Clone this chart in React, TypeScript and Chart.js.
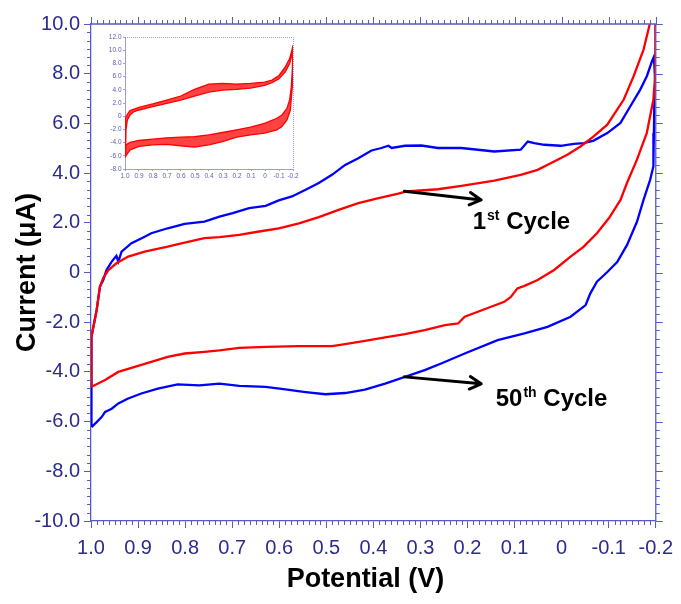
import React, { useEffect, useRef } from 'react';
import { Chart, registerables } from 'chart.js';

Chart.register(...registerables);

// ---------- Axis ticks ----------
const X_TICKS = [1.0, 0.9, 0.8, 0.7, 0.6, 0.5, 0.4, 0.3, 0.2, 0.1, 0, -0.1, -0.2];
const X_TICK_LABELS = ['1.0', '0.9', '0.8', '0.7', '0.6', '0.5', '0.4', '0.3', '0.2', '0.1', '0', '-0.1', '-0.2'];
const Y_TICKS = [10, 8, 6, 4, 2, 0, -2, -4, -6, -8, -10];
const Y_TICK_LABELS = ['10.0', '8.0', '6.0', '4.0', '2.0', '0', '-2.0', '-4.0', '-6.0', '-8.0', '-10.0'];

const INSET_X_TICKS = [1.0, 0.9, 0.8, 0.7, 0.6, 0.5, 0.4, 0.3, 0.2, 0.1, 0, -0.1, -0.2];
const INSET_X_TICK_LABELS = ['1.0', '0.9', '0.8', '0.7', '0.6', '0.5', '0.4', '0.3', '0.2', '0.1', '0', '-0.1', '-0.2'];
const INSET_Y_TICKS = [12, 10, 8, 6, 4, 2, 0, -2, -4, -6, -8];
const INSET_Y_TICK_LABELS = ['12.0', '10.0', '8.0', '6.0', '4.0', '2.0', '0', '-2.0', '-4.0', '-6.0', '-8.0'];

// ---------- 1st cycle (red) ----------
const CYCLE1_ANODIC_POTENTIAL = [0.999, 0.999, 0.988, 0.981, 0.974, 0.963, 0.946, 0.921, 0.886, 0.837, 0.801, 0.759, 0.727, 0.685, 0.643, 0.601, 0.558, 0.516, 0.474, 0.432, 0.389, 0.347, 0.330, 0.263, 0.213, 0.143, 0.087, 0.051, 0.016, -0.012, -0.040, -0.068, -0.097, -0.132, -0.153, -0.174, -0.187, -0.200];
const CYCLE1_ANODIC_CURRENT = [-4.60, -2.59, -1.51, -0.57, -0.22, 0.10, 0.37, 0.64, 0.84, 1.04, 1.20, 1.38, 1.42, 1.51, 1.65, 1.78, 1.98, 2.23, 2.52, 2.79, 2.99, 3.17, 3.26, 3.35, 3.49, 3.70, 3.93, 4.13, 4.47, 4.74, 5.07, 5.48, 5.95, 6.96, 7.90, 8.97, 9.98, 10.8];
const CYCLE1_CATHODIC_POTENTIAL = [-0.199, -0.195, -0.181, -0.160, -0.139, -0.125, -0.101, -0.075, -0.047, -0.019, 0.016, 0.051, 0.079, 0.094, 0.108, 0.122, 0.150, 0.178, 0.206, 0.220, 0.248, 0.291, 0.333, 0.375, 0.418, 0.460, 0.488, 0.558, 0.629, 0.685, 0.727, 0.759, 0.801, 0.837, 0.872, 0.907, 0.942, 0.970, 0.999];
const CYCLE1_CATHODIC_CURRENT = [8.03, 6.96, 5.62, 4.54, 3.61, 2.92, 2.20, 1.58, 1.04, 0.64, 0.10, -0.30, -0.54, -0.64, -0.98, -1.18, -1.38, -1.58, -1.78, -2.05, -2.12, -2.32, -2.48, -2.61, -2.75, -2.88, -2.96, -2.96, -2.99, -3.03, -3.13, -3.19, -3.26, -3.40, -3.60, -3.80, -4.00, -4.33, -4.60];

// ---------- 50th cycle (blue) ----------
const CYCLE50_ANODIC_POTENTIAL = [0.999, 0.999, 0.988, 0.981, 0.974, 0.967, 0.956, 0.946, 0.942, 0.935, 0.914, 0.886, 0.872, 0.837, 0.801, 0.759, 0.727, 0.699, 0.664, 0.629, 0.601, 0.573, 0.544, 0.516, 0.488, 0.460, 0.432, 0.404, 0.383, 0.368, 0.361, 0.333, 0.298, 0.263, 0.213, 0.143, 0.087, 0.072, 0.058, 0.037, 0.002, -0.026, -0.047, -0.068, -0.097, -0.125, -0.146, -0.167, -0.181, -0.192, -0.196];
const CYCLE50_ANODIC_CURRENT = [-6.22, -2.59, -1.51, -0.57, -0.30, 0.10, 0.44, 0.67, 0.44, 0.84, 1.18, 1.44, 1.58, 1.78, 1.96, 2.05, 2.25, 2.39, 2.59, 2.68, 2.90, 3.06, 3.33, 3.60, 3.93, 4.33, 4.60, 4.91, 5.01, 5.10, 5.01, 5.10, 5.11, 5.01, 5.01, 4.87, 4.94, 5.27, 5.21, 5.14, 5.10, 5.18, 5.21, 5.31, 5.61, 6.02, 6.69, 7.36, 7.90, 8.50, 8.68];
const CYCLE50_CATHODIC_POTENTIAL = [-0.199, -0.197, -0.196, -0.195, -0.188, -0.174, -0.160, -0.139, -0.118, -0.097, -0.075, -0.061, -0.051, -0.019, 0.030, 0.079, 0.136, 0.206, 0.256, 0.291, 0.333, 0.375, 0.418, 0.460, 0.502, 0.544, 0.587, 0.629, 0.685, 0.727, 0.770, 0.816, 0.858, 0.893, 0.921, 0.942, 0.956, 0.970, 0.977, 0.988, 0.999];
const CYCLE50_CATHODIC_CURRENT = [7.63, 6.96, 5.62, 4.27, 3.73, 2.92, 2.04, 1.11, 0.42, 0.02, -0.37, -0.84, -1.31, -1.78, -2.19, -2.45, -2.72, -3.26, -3.66, -3.93, -4.20, -4.47, -4.71, -4.85, -4.90, -4.81, -4.70, -4.60, -4.56, -4.47, -4.54, -4.50, -4.67, -4.87, -5.07, -5.27, -5.48, -5.61, -5.81, -6.02, -6.22];

// ---------- Inset: band of 50 cycles (envelopes) ----------
const INSET_UPPER_OUTER_POTENTIAL = [1.0, 1.0, 0.995, 0.983, 0.964, 0.940, 0.900, 0.802, 0.702, 0.602, 0.504, 0.401, 0.303, 0.203, 0.103, 0.003, -0.050, -0.100, -0.145, -0.176, -0.195, -0.2];
const INSET_UPPER_OUTER_CURRENT = [-4.58, -1.57, -0.31, 0.29, 0.84, 1.05, 1.35, 1.85, 2.45, 3.06, 4.06, 4.86, 4.96, 4.86, 4.96, 5.17, 5.47, 6.17, 7.48, 8.73, 10.24, 10.75];
const INSET_UPPER_INNER_POTENTIAL = [-0.195, -0.176, -0.145, -0.100, -0.050, 0.003, 0.103, 0.203, 0.303, 0.401, 0.504, 0.602, 0.702, 0.802, 0.900, 0.940, 0.964, 0.983, 0.993, 0.995];
const INSET_UPPER_INNER_CURRENT = [9.49, 7.98, 6.72, 5.67, 5.07, 4.66, 4.26, 4.06, 3.96, 3.66, 3.06, 2.45, 1.95, 1.45, 0.94, 0.64, 0.19, -0.56, -2.07, -4.58];
const INSET_LOWER_INNER_POTENTIAL = [-0.2, -0.195, -0.188, -0.176, -0.157, -0.121, -0.085, 0.003, 0.103, 0.203, 0.303, 0.401, 0.504, 0.602, 0.702, 0.802, 0.900, 0.964, 0.993];
const INSET_LOWER_INNER_CURRENT = [10.5, 6.97, 4.46, 2.45, 1.20, 0.19, -0.31, -1.07, -1.67, -2.07, -2.47, -2.83, -3.08, -3.18, -3.28, -3.48, -3.68, -3.98, -4.33];
const INSET_LOWER_OUTER_POTENTIAL = [1.0, 0.993, 0.964, 0.900, 0.802, 0.702, 0.602, 0.504, 0.401, 0.303, 0.203, 0.103, 0.003, -0.085, -0.121, -0.157, -0.181, -0.195, -0.2];
const INSET_LOWER_OUTER_CURRENT = [-6.2, -6.09, -5.09, -4.58, -4.34, -4.28, -4.48, -4.69, -4.34, -3.84, -3.18, -2.83, -2.57, -2.07, -1.57, -0.56, 0.94, 4.46, 8.48];

// ---------- Annotations ----------
const ARROW_START_POTENTIAL = [0.334, 0.334];
const ARROW_START_CURRENT = [3.27, -4.20];
const ARROW_END_POTENTIAL = [0.171, 0.171];
const ARROW_END_CURRENT = [2.92, -4.48];
const LABEL_MAIN = ['1', '50'];
const LABEL_SUP = ['st', 'th'];
const LABEL_REST = [' Cycle', ' Cycle'];
const LABEL_POTENTIAL = [0.189, 0.140];
const LABEL_CURRENT = [1.75, -5.38];
const X_TITLE = 'Potential (V)';
const Y_TITLE = 'Current (μA)';

const FONT = '"Liberation Sans", Arial, Helvetica, sans-serif';
const AXIS_COLOR = '#5a5ac6';
const TICK_TEXT = '#2b2b8e';
const X_MINOR_DIVS = 8;
const Y_MINOR_DIVS = 6;

function pts(xs: number[], ys: number[]) {
  return xs.map((x, i) => ({ x, y: ys[i] }));
}

function labelFor(values: number[], labels: string[], v: number) {
  const i = values.findIndex((t) => Math.abs(t - v) < 1e-9);
  return i >= 0 ? labels[i] : '';
}

const mainFrame = {
  id: 'mainFrame',
  afterDraw(chart: any) {
    const { ctx, chartArea: a, scales } = chart;
    const xs = scales.x;
    const ys = scales.y;
    const MAJ = 7;
    const MIN = 4;
    ctx.save();
    ctx.strokeStyle = AXIS_COLOR;
    ctx.lineWidth = 1.3;
    ctx.beginPath();
    ctx.moveTo(a.left, a.top);
    ctx.lineTo(a.right, a.top);
    ctx.lineTo(a.right, a.bottom);
    ctx.stroke();
    ctx.lineWidth = 1;
    ctx.beginPath();
    X_TICKS.forEach((v, i) => {
      const px = Math.round(xs.getPixelForValue(v)) + 0.5;
      ctx.moveTo(px, a.top);
      ctx.lineTo(px, a.top - MAJ);
      if (i < X_TICKS.length - 1) {
        const nx = X_TICKS[i + 1];
        for (let k = 1; k < X_MINOR_DIVS; k++) {
          const mp = Math.round(xs.getPixelForValue(v + ((nx - v) * k) / X_MINOR_DIVS)) + 0.5;
          ctx.moveTo(mp, a.top);
          ctx.lineTo(mp, a.top - MIN);
          ctx.moveTo(mp, a.bottom);
          ctx.lineTo(mp, a.bottom + MIN);
        }
      }
    });
    Y_TICKS.forEach((v, i) => {
      const py = Math.round(ys.getPixelForValue(v)) + 0.5;
      ctx.moveTo(a.right, py);
      ctx.lineTo(a.right + MAJ, py);
      if (i < Y_TICKS.length - 1) {
        const ny = Y_TICKS[i + 1];
        for (let k = 1; k < Y_MINOR_DIVS; k++) {
          const mp = Math.round(ys.getPixelForValue(v + ((ny - v) * k) / Y_MINOR_DIVS)) + 0.5;
          ctx.moveTo(a.left, mp);
          ctx.lineTo(a.left - MIN, mp);
          ctx.moveTo(a.right, mp);
          ctx.lineTo(a.right + MIN, mp);
        }
      }
    });
    ctx.stroke();

    // x axis title (slightly left of axis centre, as in the reference)
    ctx.fillStyle = '#000';
    ctx.font = `bold 27px ${FONT}`;
    ctx.textAlign = 'center';
    ctx.textBaseline = 'middle';
    ctx.fillText(X_TITLE, (a.left + a.right) / 2 - 8, 580);

    // arrows
    ctx.strokeStyle = '#000';
    ctx.lineWidth = 3;
    ctx.lineCap = 'round';
    ctx.lineJoin = 'round';
    for (let i = 0; i < ARROW_START_POTENTIAL.length; i++) {
      const x0 = xs.getPixelForValue(ARROW_START_POTENTIAL[i]);
      const y0 = ys.getPixelForValue(ARROW_START_CURRENT[i]);
      const x1 = xs.getPixelForValue(ARROW_END_POTENTIAL[i]);
      const y1 = ys.getPixelForValue(ARROW_END_CURRENT[i]);
      const ang = Math.atan2(y1 - y0, x1 - x0);
      const hl = 13;
      ctx.beginPath();
      ctx.moveTo(x0, y0);
      ctx.lineTo(x1, y1);
      ctx.moveTo(x1 - hl * Math.cos(ang - 0.5), y1 - hl * Math.sin(ang - 0.5));
      ctx.lineTo(x1, y1);
      ctx.lineTo(x1 - hl * Math.cos(ang + 0.5), y1 - hl * Math.sin(ang + 0.5));
      ctx.stroke();
    }

    // labels
    ctx.fillStyle = '#000';
    ctx.textBaseline = 'alphabetic';
    ctx.textAlign = 'left';
    for (let i = 0; i < LABEL_MAIN.length; i++) {
      let px = xs.getPixelForValue(LABEL_POTENTIAL[i]);
      const py = ys.getPixelForValue(LABEL_CURRENT[i]);
      ctx.font = `bold 24px ${FONT}`;
      ctx.fillText(LABEL_MAIN[i], px, py);
      px += ctx.measureText(LABEL_MAIN[i]).width + 1;
      ctx.font = `bold 14px ${FONT}`;
      ctx.fillText(LABEL_SUP[i], px, py - 9);
      px += ctx.measureText(LABEL_SUP[i]).width;
      ctx.font = `bold 24px ${FONT}`;
      ctx.fillText(LABEL_REST[i], px, py);
    }
    ctx.restore();
  },
};

const insetFrame = {
  id: 'insetFrame',
  afterDraw(chart: any) {
    const { ctx, chartArea: a } = chart;
    ctx.save();
    ctx.strokeStyle = '#9c9ce0';
    ctx.lineWidth = 1;
    ctx.setLineDash([1, 1]);
    ctx.beginPath();
    ctx.moveTo(a.left, a.top + 0.5);
    ctx.lineTo(a.right + 0.5, a.top + 0.5);
    ctx.lineTo(a.right + 0.5, a.bottom);
    ctx.stroke();
    ctx.restore();
  },
};

export default function App() {
  const mainRef = useRef<HTMLCanvasElement>(null);
  const insetRef = useRef<HTMLCanvasElement>(null);

  useEffect(() => {
    const c1 = [...pts(CYCLE1_ANODIC_POTENTIAL, CYCLE1_ANODIC_CURRENT), ...pts(CYCLE1_CATHODIC_POTENTIAL, CYCLE1_CATHODIC_CURRENT)];
    const c50 = [...pts(CYCLE50_ANODIC_POTENTIAL, CYCLE50_ANODIC_CURRENT), ...pts(CYCLE50_CATHODIC_POTENTIAL, CYCLE50_CATHODIC_CURRENT)];

    const main = new Chart(mainRef.current as HTMLCanvasElement, {
      type: 'scatter',
      data: {
        datasets: [
          { label: '1st Cycle', data: c1, showLine: true, borderColor: '#ff0000', borderWidth: 2.3, pointRadius: 0, tension: 0, fill: false },
          { label: '50th Cycle', data: c50, showLine: true, borderColor: '#0000ff', borderWidth: 2.3, pointRadius: 0, tension: 0, fill: false },
        ],
      },
      options: {
        animation: false,
        responsive: false,
        maintainAspectRatio: false,
        events: [],
        layout: { padding: { top: 24, right: 22, left: 0, bottom: 0 } },
        plugins: { legend: { display: false }, tooltip: { enabled: false } },
        scales: {
          x: {
            type: 'linear',
            position: 'bottom',
            min: -0.2,
            max: 1.0,
            reverse: true,
            afterBuildTicks: (s: any) => {
              s.ticks = X_TICKS.map((v) => ({ value: v }));
            },
            afterFit: (s: any) => {
              s.height = 83;
            },
            ticks: {
              autoSkip: false,
              maxRotation: 0,
              padding: 8,
              color: TICK_TEXT,
              font: { family: FONT, size: 20 },
              callback: (v: any) => labelFor(X_TICKS, X_TICK_LABELS, Number(v)),
            },
            grid: { drawOnChartArea: false, drawTicks: true, tickLength: 7, color: AXIS_COLOR, lineWidth: 1 },
            border: { display: true, color: AXIS_COLOR, width: 1.3 },
            title: { display: false, text: X_TITLE },
          },
          y: {
            type: 'linear',
            position: 'left',
            min: -10,
            max: 10,
            afterBuildTicks: (s: any) => {
              s.ticks = Y_TICKS.map((v) => ({ value: v }));
            },
            afterFit: (s: any) => {
              s.width = 91;
            },
            ticks: {
              autoSkip: false,
              padding: 4,
              color: TICK_TEXT,
              font: { family: FONT, size: 20 },
              callback: (v: any) => labelFor(Y_TICKS, Y_TICK_LABELS, Number(v)),
            },
            grid: { drawOnChartArea: false, drawTicks: true, tickLength: 7, color: AXIS_COLOR, lineWidth: 1 },
            border: { display: true, color: AXIS_COLOR, width: 1.3 },
            title: { display: true, text: Y_TITLE, color: '#000', font: { family: FONT, size: 27, weight: 'bold' }, padding: { top: 11, bottom: 0 } },
          },
        },
      },
      plugins: [mainFrame],
    } as any);

    const upperBand = [...pts(INSET_UPPER_OUTER_POTENTIAL, INSET_UPPER_OUTER_CURRENT), ...pts(INSET_UPPER_INNER_POTENTIAL, INSET_UPPER_INNER_CURRENT)];
    const lowerBand = [...pts(INSET_LOWER_INNER_POTENTIAL, INSET_LOWER_INNER_CURRENT), ...pts(INSET_LOWER_OUTER_POTENTIAL, INSET_LOWER_OUTER_CURRENT)];

    const inset = new Chart(insetRef.current as HTMLCanvasElement, {
      type: 'scatter',
      data: {
        datasets: [
          { data: upperBand, showLine: true, borderColor: '#ff0000', backgroundColor: 'rgba(255,20,20,0.8)', borderWidth: 1.3, pointRadius: 0, tension: 0, fill: 'shape' },
          { data: lowerBand, showLine: true, borderColor: '#ff0000', backgroundColor: 'rgba(255,20,20,0.8)', borderWidth: 1.3, pointRadius: 0, tension: 0, fill: 'shape' },
        ],
      },
      options: {
        animation: false,
        responsive: false,
        maintainAspectRatio: false,
        events: [],
        layout: { padding: { top: 10, right: 9, left: 0, bottom: 0 } },
        plugins: { legend: { display: false }, tooltip: { enabled: false } },
        scales: {
          x: {
            type: 'linear',
            min: -0.2,
            max: 1.0,
            reverse: true,
            afterBuildTicks: (s: any) => {
              s.ticks = INSET_X_TICKS.map((v) => ({ value: v }));
            },
            afterFit: (s: any) => {
              s.height = 16;
            },
            ticks: {
              autoSkip: false,
              maxRotation: 0,
              padding: 1,
              color: '#5a5ab0',
              font: { family: FONT, size: 6.5 },
              callback: (v: any) => labelFor(INSET_X_TICKS, INSET_X_TICK_LABELS, Number(v)),
            },
            grid: { drawOnChartArea: false, tickLength: 2, color: '#9c9ce0' },
            border: { display: true, color: '#9c9ce0', width: 1, dash: [1, 1] },
          },
          y: {
            type: 'linear',
            min: -8,
            max: 12,
            afterBuildTicks: (s: any) => {
              s.ticks = INSET_Y_TICKS.map((v) => ({ value: v }));
            },
            afterFit: (s: any) => {
              s.width = 29;
            },
            ticks: {
              autoSkip: false,
              padding: 1.5,
              color: '#5a5ab0',
              font: { family: FONT, size: 6.5 },
              callback: (v: any) => labelFor(INSET_Y_TICKS, INSET_Y_TICK_LABELS, Number(v)),
            },
            grid: { drawOnChartArea: false, tickLength: 2, color: '#9c9ce0' },
            border: { display: true, color: '#9c9ce0', width: 1, dash: [1, 1] },
          },
        },
      },
      plugins: [insetFrame],
    } as any);

    return () => {
      main.destroy();
      inset.destroy();
    };
  }, []);

  return (
    <div style={{ position: 'absolute', left: 0, top: 0, width: 681, height: 604, background: '#fff', overflow: 'hidden' }}>
      <canvas ref={mainRef} width={681} height={604} style={{ position: 'absolute', left: 0, top: 0, width: 681, height: 604 }} />
      <canvas ref={insetRef} width={206} height={158} style={{ position: 'absolute', left: 96, top: 27, width: 206, height: 158 }} />
    </div>
  );
}
